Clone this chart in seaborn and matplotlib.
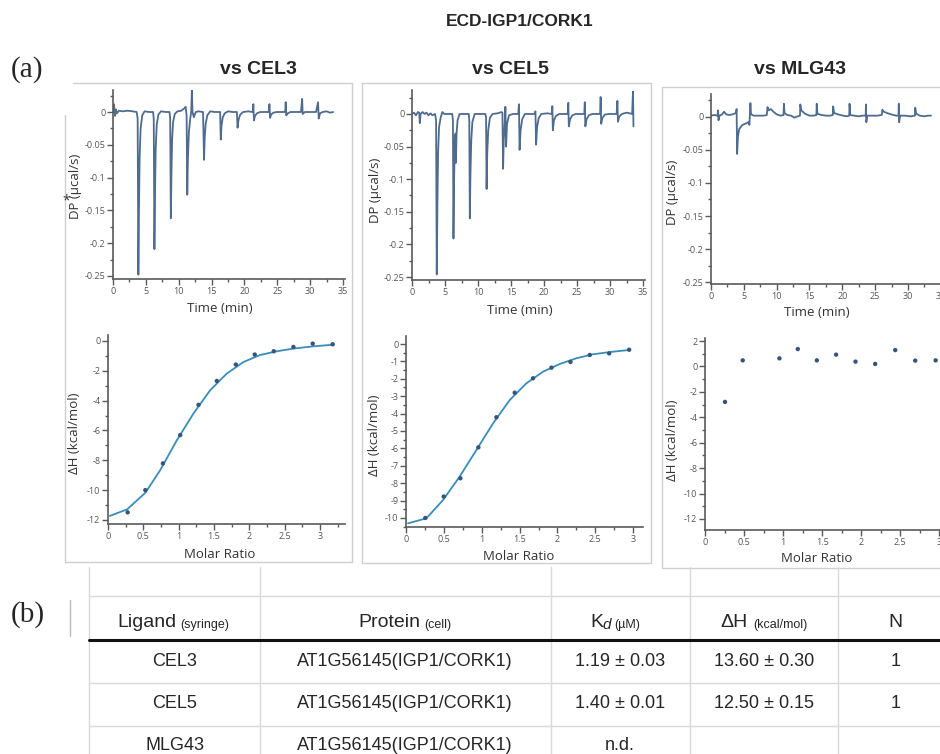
import matplotlib
matplotlib.use("Agg")
import matplotlib.pyplot as plt
import seaborn as sns
import numpy as np
import pandas as pd
from matplotlib.lines import Line2D
from matplotlib.ticker import MultipleLocator, FuncFormatter

# ---------------- data ----------------
# thermograms (time in min, DP in ucal/s), vertices
cel3_time = [0, 0.15, 0.3, 0.45, 0.6, 0.9, 1.5, 2.2, 3.0, 3.6,
             3.75, 3.86, 3.95, 4.05, 4.2, 4.45, 4.8, 5.5, 6.1,
             6.2, 6.3, 6.4, 6.5, 6.65, 6.9, 7.3, 8.0, 8.6,
             8.7, 8.8, 8.9, 9.0, 9.15, 9.4, 9.8, 10.4, 10.9, 11.05,
             11.2, 11.3, 11.4, 11.55, 11.75, 11.9, 12.0, 12.1, 12.3, 12.6, 13.0,
             13.7, 13.85, 13.95, 14.1, 14.35, 14.8, 15.5, 16.2,
             16.3, 16.4, 16.5, 16.7, 17.0, 17.5, 18.2, 18.75,
             18.85, 18.95, 19.1, 19.35, 19.8, 20.6, 21.2,
             21.3, 21.35, 21.45, 21.6, 21.9, 22.4, 23.2, 23.7,
             23.8, 23.9, 24.05, 24.4, 24.9, 25.7, 26.2,
             26.28, 26.36, 26.6, 27.0, 27.5, 28.0, 28.6,
             28.78, 28.86, 29.2, 30.0, 30.9,
             31.2, 31.3, 31.5, 31.9, 32.5, 33.0, 33.5]
cel3_dp = [0.0, 0.012, -0.006, 0.004, -0.002, 0.002, 0.001, 0.002, 0.001, 0.0,
           -0.01, -0.248, -0.15, -0.07, -0.025, -0.005, 0.001, 0.0, 0.0,
           -0.01, -0.209, -0.12, -0.055, -0.02, -0.004, 0.001, 0.0, 0.0,
           -0.01, -0.162, -0.09, -0.04, -0.015, -0.003, 0.001, 0.002, 0.006, 0.008,
           -0.005, -0.126, -0.07, -0.03, -0.01, 0.0, 0.033, 0.0, -0.008, 0.0, 0.001,
           0.0, -0.073, -0.04, -0.018, -0.005, 0.001, 0.0, 0.0,
           0.0, -0.042, -0.022, -0.008, -0.002, 0.001, 0.0, 0.0,
           0.0, -0.024, -0.012, -0.004, 0.0, 0.001, 0.0,
           0.0, 0.012, -0.013, -0.006, -0.002, 0.0, 0.0, 0.0,
           0.012, -0.009, -0.004, -0.001, 0.0, 0.0, 0.0,
           0.015, -0.005, -0.002, 0.0, 0.0, 0.0, 0.0,
           0.02, -0.003, 0.0, 0.0, 0.0,
           0.015, -0.01, -0.002, 0.0, 0.001, -0.001, 0.0]

cel5_time = [0, 0.3, 0.6, 0.9, 1.1, 1.18, 1.3, 1.6, 1.9, 2.2, 2.5, 2.8, 3.1, 3.5,
             3.65, 3.75, 3.85, 3.95, 4.1, 4.35, 4.6, 4.9, 5.5, 6.1,
             6.2, 6.28, 6.38, 6.5, 6.6, 6.65, 6.75, 6.9, 7.2, 8.0, 8.6,
             8.68, 8.76, 8.86, 8.98, 9.15, 9.5, 10.3, 11.1,
             11.22, 11.3, 11.4, 11.55, 11.8, 12.2, 13.0, 13.55, 13.7,
             13.8, 13.9, 14.05, 14.15, 14.25, 14.4, 14.7, 15.3, 16.1,
             16.2, 16.3, 16.45, 16.7, 17.1, 18.0, 18.6,
             18.7, 18.8, 18.95, 19.2, 19.6, 20.5, 21.2,
             21.26, 21.34, 21.5, 21.8, 22.3, 23.1, 23.6,
             23.68, 23.76, 23.95, 24.3, 24.8, 25.6, 26.1,
             26.18, 26.26, 26.45, 26.8, 27.3, 28.1, 28.5,
             28.58, 28.66, 28.85, 29.2, 29.8, 30.6, 31.0,
             31.12, 31.2, 31.4, 31.8, 32.5, 33.0, 33.35, 33.48, 33.55]
cel5_dp = [0.0, 0.002, -0.002, 0.003, 0.002, -0.014, 0.0, 0.003, 0.0, 0.002, -0.002, 0.001, -0.002, 0.0,
           -0.01, -0.246, -0.14, -0.06, -0.02, -0.005, 0.003, 0.0, 0.0, 0.0,
           -0.01, -0.191, -0.1, -0.035, -0.03, -0.075, -0.03, -0.01, 0.0, 0.0, 0.0,
           -0.01, -0.16, -0.09, -0.04, -0.012, 0.0, 0.0, 0.0,
           -0.005, -0.115, -0.06, -0.025, -0.006, 0.0, 0.001, 0.003, 0.002,
           -0.084, -0.04, -0.015, 0.011, -0.05, -0.015, -0.002, 0.0, 0.0,
           0.015, -0.055, -0.025, -0.008, 0.0, 0.0, 0.0,
           0.004, -0.047, -0.02, -0.006, 0.0, 0.001, 0.0,
           0.012, -0.025, -0.01, -0.003, 0.0, 0.0, 0.0,
           0.017, -0.019, -0.008, -0.002, 0.0, 0.0, 0.0,
           0.018, -0.019, -0.008, -0.002, 0.0, 0.0, 0.0,
           0.026, -0.015, -0.006, -0.001, 0.0, 0.0, 0.0,
           0.02, -0.012, -0.004, 0.0, 0.002, 0.001, 0.0, 0.035, -0.019]

mlg43_time = [0, 0.5, 1.0, 1.08, 1.14, 1.3, 1.7, 2.0, 2.3, 2.8, 3.3, 3.8, 3.9, 3.98,
              4.1, 4.3, 4.8, 5.3, 5.7, 5.85, 6.0, 6.1, 6.5, 7.2, 8.0, 8.5, 8.6, 8.8,
              9.1, 9.5, 10.0, 10.6, 11.05, 11.1, 11.2, 11.6, 12.2, 12.7, 13.2, 13.55,
              13.6, 13.75, 14.3, 15.0, 15.6, 16.05, 16.1, 16.2, 16.8, 17.5, 18.1,
              18.55, 18.6, 18.75, 19.3, 20.1, 20.7, 21.05, 21.1, 21.2, 21.8, 22.5,
              23.1, 23.55, 23.6, 23.65, 23.8, 24.5, 25.3, 26.0, 26.1, 26.3, 26.8,
              27.4, 28.2, 28.55, 28.6, 28.65, 28.8, 29.5, 30.4, 31.05, 31.1, 31.25,
              31.8, 32.5, 33.0, 33.5]
mlg43_dp = [0.002, 0.003, 0.002, 0.01, -0.005, 0.002, 0.004, 0.008, 0.004, 0.003, 0.004, 0.006, 0.012, -0.056,
            -0.03, -0.018, -0.012, -0.01, -0.008, -0.012, 0.021, 0.004, 0.002, 0.002, 0.002, 0.003, 0.015, 0.01,
            0.012, 0.008, 0.004, 0.002, 0.003, 0.02, 0.006, 0.003, 0.002, -0.001, 0.001, 0.002,
            0.019, 0.01, 0.005, 0.002, 0.002, 0.003, 0.02, 0.005, 0.003, 0.002, 0.002,
            0.003, 0.016, 0.006, 0.004, 0.002, 0.001, 0.002, 0.02, 0.003, 0.002, 0.001,
            0.002, 0.002, 0.019, -0.008, 0.002, 0.002, 0.002, 0.003, 0.011, 0.008, 0.006,
            0.004, 0.002, 0.002, 0.02, -0.008, 0.002, 0.002, 0.001, 0.002, 0.014, 0.005,
            0.002, 0.001, 0.002, 0.002]

# integrated heats (molar ratio, kcal/mol)
cel3_ratio = [0.278, 0.528, 0.777, 1.022, 1.281, 1.540, 1.809, 2.077, 2.346, 2.624, 2.897, 3.180]
cel3_dh = [-11.49, -10.0, -8.21, -6.31, -4.28, -2.68, -1.58, -0.91, -0.69, -0.40, -0.18, -0.22]
cel3_fit_ratio = [0.024, 0.27, 0.53, 0.74, 0.975, 1.21, 1.446, 1.68, 1.917, 2.153, 2.39, 2.624, 2.906, 3.19]
cel3_fit_dh = [-11.73, -11.29, -10.17, -8.65, -6.65, -4.86, -3.3, -2.19, -1.41, -0.94, -0.69, -0.51, -0.36, -0.25]

cel5_ratio = [0.255, 0.498, 0.718, 0.956, 1.194, 1.436, 1.678, 1.921, 2.172, 2.427, 2.683, 2.947]
cel5_dh = [-10.0, -8.77, -7.72, -5.94, -4.21, -2.80, -1.97, -1.36, -1.03, -0.63, -0.54, -0.33]
cel5_fit_ratio = [0.026, 0.269, 0.489, 0.709, 0.93, 1.15, 1.37, 1.59, 1.81, 2.03, 2.25, 2.47, 2.736, 2.956]
cel5_fit_dh = [-10.31, -10.02, -8.97, -7.62, -6.09, -4.56, -3.22, -2.26, -1.59, -1.15, -0.82, -0.59, -0.44, -0.34]

mlg43_ratio = [0.256, 0.483, 0.953, 1.188, 1.432, 1.679, 1.927, 2.179, 2.436, 2.692, 2.953]
mlg43_dh = [-2.79, 0.48, 0.64, 1.37, 0.48, 0.93, 0.38, 0.20, 1.29, 0.46, 0.48]

# table
ligands = ["CEL3", "CEL5", "MLG43"]
proteins = ["AT1G56145(IGP1/CORK1)"] * 3
kd_values = ["1.19 ± 0.03", "1.40 ± 0.01", "n.d."]
dh_values = ["13.60 ± 0.30", "12.50 ± 0.15", ""]
n_values = ["1", "1", ""]

# ---------------- figure ----------------
sns.set_style("ticks")
plt.rcParams['font.family'] = ['Open Sans', 'DejaVu Sans']
plt.rcParams['axes.unicode_minus'] = False

W, H = 940, 754
fig = plt.figure(figsize=(W / 100, H / 100), dpi=100)

def fx(px):
    return px / W

def fy(py):
    return 1 - py / H

def add_ax(x0, x1, ytop, ybot):
    return fig.add_axes([x0 / W, 1 - ybot / H, (x1 - x0) / W, (ybot - ytop) / H])

TRACE = "#4f6b8e"
FIT = "#3a8db8"
DOT = "#35557e"
AX = "#5a5a5a"
fmt = FuncFormatter(lambda v, p: f"{round(v, 4):g}")

def style(ax, xmaj, xmin, ymaj, ymin, xlim, ylim, xlabel, ylabel, xlab_px, ylab_px):
    ax.set_xlim(*xlim)
    ax.set_ylim(*ylim)
    sns.despine(ax=ax)
    for s in ("left", "bottom"):
        ax.spines[s].set_color(AX)
        ax.spines[s].set_linewidth(1.2)
    ax.xaxis.set_major_locator(MultipleLocator(xmaj))
    ax.xaxis.set_minor_locator(MultipleLocator(xmin))
    ax.yaxis.set_major_locator(MultipleLocator(ymaj))
    ax.yaxis.set_minor_locator(MultipleLocator(ymin))
    ax.xaxis.set_major_formatter(fmt)
    ax.yaxis.set_major_formatter(fmt)
    ax.tick_params(which="major", direction="out", length=4, width=1, color=AX,
                   labelsize=6.5, labelcolor="#555555", pad=1.5)
    ax.tick_params(which="minor", direction="out", length=2.5, width=1, color=AX)
    ax.set_xlabel(xlabel, fontsize=9.5, color="#333333")
    ax.set_ylabel(ylabel, fontsize=9.5, color="#333333")
    pos = ax.get_position()
    ax.xaxis.set_label_coords((fx(xlab_px[0]) - pos.x0) / pos.width,
                              (fy(xlab_px[1]) - pos.y0) / pos.height)
    ax.yaxis.set_label_coords((fx(ylab_px[0]) - pos.x0) / pos.width,
                              (fy(ylab_px[1]) - pos.y0) / pos.height)
    ax.xaxis.label.set_va("center")
    ax.yaxis.label.set_va("center")

# --- thermograms ---
traces = [
    (cel3_time, cel3_dp, (113, 345, 89.7, 279), (35.3, 0.034, -0.2546), (220, 308), (75, 186)),
    (cel5_time, cel5_dp, (412, 645, 90.5, 280), (35.3, 0.036, -0.2546), (520, 310), (375, 190)),
    (mlg43_time, mlg43_dp, (711, 943, 94, 284), (35.33, 0.0348, -0.253), (817, 313), (672, 192)),
]
for t, dp, rect, lim, xl, yl in traces:
    ax = add_ax(*rect)
    sns.lineplot(x=t, y=dp, ax=ax, color=TRACE, linewidth=1.3, estimator=None, sort=False)
    style(ax, 5, 2.5, 0.05, 0.025, (0, lim[0]), (lim[2], lim[1]),
          "Time (min)", "DP (µcal/s)", xl, yl)

# --- binding isotherms ---
ax = add_ax(108, 345, 335, 524)
sns.lineplot(x=cel3_fit_ratio, y=cel3_fit_dh, ax=ax, color=FIT, linewidth=1.3, estimator=None, sort=False)
sns.scatterplot(x=cel3_ratio, y=cel3_dh, ax=ax, color=DOT, s=10, edgecolor="none", zorder=3)
style(ax, 0.5, 0.25, 2, 1, (0, 3.354), (-12.27, 0.40), "Molar Ratio", "ΔH (kcal/mol)", (220, 555), (75, 433))

ax = add_ax(406, 643, 336, 527)
sns.lineplot(x=cel5_fit_ratio, y=cel5_fit_dh, ax=ax, color=FIT, linewidth=1.3, estimator=None, sort=False)
sns.scatterplot(x=cel5_ratio, y=cel5_dh, ax=ax, color=DOT, s=10, edgecolor="none", zorder=3)
style(ax, 0.5, 0.25, 1, 0.5, (0, 3.13), (-10.52, 0.46), "Molar Ratio", "ΔH (kcal/mol)", (519, 557), (375, 435))

ax = add_ax(705, 951, 338, 530)
sns.scatterplot(x=mlg43_ratio, y=mlg43_dh, ax=ax, color=DOT, s=10, edgecolor="none", zorder=3)
style(ax, 0.5, 0.25, 2, 1, (0, 3.15), (-12.87, 2.24), "Molar Ratio", "ΔH (kcal/mol)", (817, 559), (673, 440))

# --- panel frames ---
def fline(xs, ys, color="#cfcfcf", lw=1.0):
    fig.add_artist(Line2D([fx(x) for x in xs], [fy(y) for y in ys], color=color, lw=lw))

fline([73, 352, 352, 65, 65], [83, 83, 562, 562, 115])
fline([362, 651, 651, 362, 362], [83, 83, 563, 563, 83])
fline([662, 945, 945, 662, 662], [87, 87, 568, 568, 87])

# --- titles ---
fig.text(fx(520), fy(22), "ECD-IGP1/CORK1", ha="center", va="center",
         fontsize=12.5, fontweight="bold", family="Liberation Sans")
for x, s in [(258, "vs CEL3"), (510, "vs CEL5"), (800, "vs MLG43")]:
    fig.text(fx(x), fy(70), s, ha="center", va="center", fontsize=14,
             fontweight="bold", family="Liberation Sans")
fig.text(fx(11), fy(70), "(a)", ha="left", va="center", fontsize=21, family="Liberation Serif")
fig.text(fx(11), fy(615), "(b)", ha="left", va="center", fontsize=21, family="Liberation Serif")
fig.text(fx(66), fy(201), "*", ha="center", va="center", fontsize=10, color="#333333")
fline([70, 70], [600, 636], color="#bbbbbb")

# --- table ---
LIGHT = "#d9d9d9"
for x in [89, 260, 551, 690, 838]:
    fline([x, x], [567, 754], color=LIGHT)
for y in [596, 683, 726]:
    fline([89, 940], [y, y], color=LIGHT)
fline([89, 940], [640, 640], color="#111111", lw=2.2)

TF = "Liberation Sans"
hy = 627
fig.text(fx(117), fy(hy), "Ligand", ha="left", va="baseline", fontsize=14, family=TF)
fig.text(fx(180), fy(hy + 1), "(syringe)", ha="left", va="baseline", fontsize=9, family=TF)
fig.text(fx(358), fy(hy), "Protein", ha="left", va="baseline", fontsize=14, family=TF)
fig.text(fx(424), fy(hy + 1), "(cell)", ha="left", va="baseline", fontsize=9, family=TF)
fig.text(fx(590), fy(hy), "K", ha="left", va="baseline", fontsize=14, family=TF)
fig.text(fx(602), fy(hy + 2), "d", ha="left", va="baseline", fontsize=11, style="italic", family=TF)
fig.text(fx(614), fy(hy + 1), "(µM)", ha="left", va="baseline", fontsize=9, family=TF)
fig.text(fx(720), fy(hy), "ΔH", ha="left", va="baseline", fontsize=14, family=TF)
fig.text(fx(753), fy(hy + 1), "(kcal/mol)", ha="left", va="baseline", fontsize=9, family=TF)
fig.text(fx(895), fy(hy), "N", ha="center", va="baseline", fontsize=14, family=TF)

col_x = [175, 405, 620, 764, 896]
row_y = [662, 704, 746]
for i in range(3):
    vals = [ligands[i], proteins[i], kd_values[i], dh_values[i], n_values[i]]
    for cx, v in zip(col_x, vals):
        fig.text(fx(cx), fy(row_y[i]), v, ha="center", va="center", fontsize=13, family=TF)

fig.savefig("out.png", dpi=100)
